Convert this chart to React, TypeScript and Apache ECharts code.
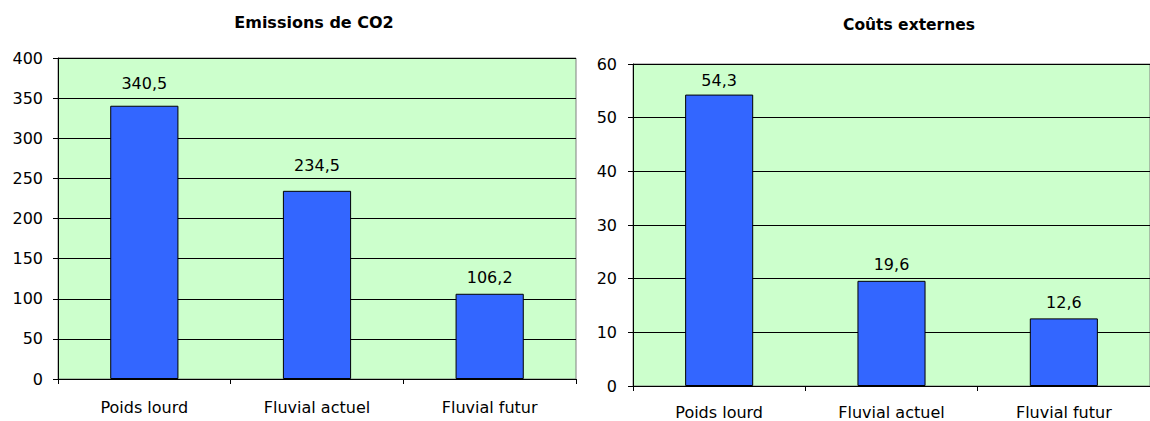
import React, { useEffect, useRef } from "react";
import * as echarts from "echarts";

const categories = ["Poids lourd", "Fluvial actuel", "Fluvial futur"];
const co2Values = [340.5, 234.5, 106.2];
const costValues = [54.3, 19.6, 12.6];
const co2Title = "Emissions de CO2";
const costTitle = "Coûts externes";

// label distances above bars (style only)
const co2LabelGap = [14, 17, 8];
const costLabelGap = [6, 8, 8];

const FONT = "'DejaVu Sans', Verdana, sans-serif";

export default function App() {
  const ref = useRef<HTMLDivElement>(null);
  useEffect(() => {
    if (!ref.current) return;
    const chart = echarts.init(ref.current, undefined, { renderer: "svg" });
    const fmt = (p: any) => String(p.value).replace(".", ",");
    const yAxisCommon = {
      type: "value" as const,
      axisLine: { show: true, lineStyle: { color: "#000", width: 1 } },
      axisTick: { show: true, length: 5, lineStyle: { color: "#000" } },
      axisLabel: { color: "#000", fontSize: 16, fontFamily: FONT },
      splitLine: { show: true, lineStyle: { color: "#000", width: 1 } },
    };
    const xAxisCommon = {
      type: "category" as const,
      data: categories,
      axisLine: { show: true, lineStyle: { color: "#000", width: 1 } },
      axisTick: { show: true, length: 5, alignWithLabel: false, lineStyle: { color: "#000" } },
    };
    const barCommon = {
      type: "bar" as const,
      barWidth: "39.5%",
      itemStyle: { color: "#3366FF", borderColor: "#000", borderWidth: 1 },
    };
    const labelStyle = { color: "#000", fontSize: 16, fontFamily: FONT };
    const mkData = (vals: number[], gaps: number[]) =>
      vals.map((v, i) => ({
        value: v,
        label: { show: true, position: "top", distance: gaps[i], formatter: fmt, ...labelStyle },
      }));
    chart.setOption({
      animation: false,
      backgroundColor: "#fff",
      title: [
        {
          text: co2Title,
          left: 309,
          top: 9,
          textAlign: "center",
          textStyle: { fontSize: 16, fontWeight: "bold", fontFamily: FONT, color: "#000" },
        },
        {
          text: costTitle,
          left: 904,
          top: 12,
          textAlign: "center",
          textStyle: { fontSize: 15.5, fontWeight: "bold", fontFamily: FONT, color: "#000" },
        },
      ],
      grid: [
        {
          left: 58, top: 58, width: 518, height: 321,
          show: true, backgroundColor: "#CCFFCC", borderColor: "#808080", borderWidth: 1,
        },
        {
          left: 633, top: 64, width: 531, height: 322,
          show: true, backgroundColor: "#CCFFCC", borderColor: "#808080", borderWidth: 1,
        },
      ],
      xAxis: [
        {
          ...xAxisCommon, gridIndex: 0,
          axisLabel: { color: "#000", fontSize: 16, fontFamily: FONT, margin: 20 },
        },
        {
          ...xAxisCommon, gridIndex: 1,
          axisLabel: { color: "#000", fontSize: 16, fontFamily: FONT, margin: 18 },
        },
      ],
      yAxis: [
        {
          ...yAxisCommon, gridIndex: 0, min: 0, max: 400, interval: 50,
          axisLabel: { ...yAxisCommon.axisLabel, margin: 15 },
        },
        {
          ...yAxisCommon, gridIndex: 1, min: 0, max: 60, interval: 10,
          axisLabel: { ...yAxisCommon.axisLabel, margin: 16 },
        },
      ],
      series: [
        {
          ...barCommon,
          xAxisIndex: 0,
          yAxisIndex: 0,
          data: mkData(co2Values, co2LabelGap),
        },
        {
          ...barCommon,
          xAxisIndex: 1,
          yAxisIndex: 1,
          data: mkData(costValues, costLabelGap),
        },
      ],
    });
    return () => chart.dispose();
  }, []);
  return (
    <div
      ref={ref}
      style={{ position: "absolute", left: 0, top: 0, width: 1150, height: 421 }}
    />
  );
}
